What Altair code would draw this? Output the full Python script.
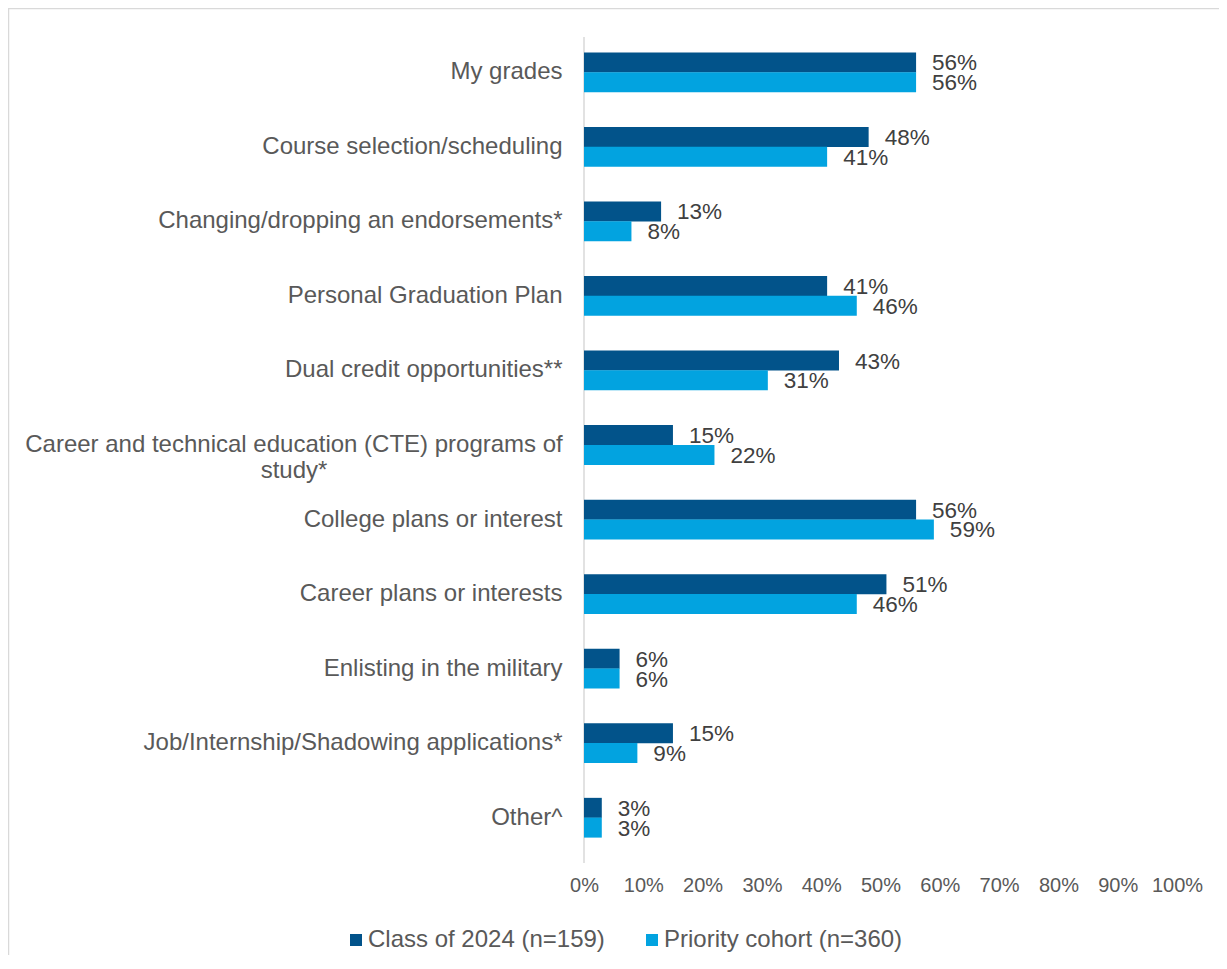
import altair as alt
import pandas as pd

CTE = "Career and technical education (CTE) programs of study*"
categories = [
    "My grades",
    "Course selection/scheduling",
    "Changing/dropping an endorsements*",
    "Personal Graduation Plan",
    "Dual credit opportunities**",
    CTE,
    "College plans or interest",
    "Career plans or interests",
    "Enlisting in the military",
    "Job/Internship/Shadowing applications*",
    "Other^",
]
cte_lines = ["Career and technical education (CTE) programs of", "study*"]
series = ["Class of 2024 (n=159)", "Priority cohort (n=360)"]
class_2024 = [56, 48, 13, 41, 43, 15, 56, 51, 6, 15, 3]
priority = [56, 41, 8, 46, 31, 22, 59, 46, 6, 9, 3]
colors = ["#02538A", "#02A3E0"]
x_ticks = [0, 0.1, 0.2, 0.3, 0.4, 0.5, 0.6, 0.7, 0.8, 0.9, 1.0]

rows = []
for c, a, b in zip(categories, class_2024, priority):
    rows.append({"cat": c, "series": series[0], "value": a / 100, "label": f"{a}%"})
    rows.append({"cat": c, "series": series[1], "value": b / 100, "label": f"{b}%"})
df = pd.DataFrame(rows)

FONT = "Liberation Sans"
CAT_SIZE = 24

y_enc = alt.Y(
    "cat:N",
    sort=categories,
    scale=alt.Scale(paddingInner=0.47, paddingOuter=0.235),
    axis=alt.Axis(
        title=None,
        ticks=False,
        domain=False,
        labelFontSize=CAT_SIZE,
        labelColor="#595959",
        labelFont=FONT,
        labelPadding=22,
        labelLimit=700,
        labelExpr=f"datum.label == '{CTE}' ? '' : datum.label",
    ),
)
x_enc = alt.X(
    "value:Q",
    scale=alt.Scale(domain=[0, 1], nice=False),
    axis=alt.Axis(
        title=None,
        values=x_ticks,
        format=".0%",
        grid=False,
        ticks=False,
        domain=False,
        labelFontSize=20,
        labelColor="#595959",
        labelFont=FONT,
        labelPadding=20,
        labelOverlap=False,
        labelFlush=False,
        labelAlign="center",
    ),
)
yoff = alt.YOffset("series:N", sort=series)

bars = alt.Chart(df).mark_bar(size=20).encode(
    y=y_enc,
    x=x_enc,
    yOffset=yoff,
    color=alt.Color(
        "series:N",
        sort=series,
        scale=alt.Scale(domain=series, range=colors),
        legend=alt.Legend(
            title=None,
            orient="none",
            legendX=-240,
            legendY=893,
            direction="horizontal",
            symbolType="square",
            symbolSize=144,
            symbolStrokeWidth=0,
            labelFontSize=24,
            labelFont=FONT,
            labelColor="#595959",
            labelOffset=0,
            columnPadding=35,
            labelLimit=400,
            padding=0,
        ),
    ),
)

labels = alt.Chart(df).mark_text(
    align="left", baseline="middle", dx=16, dy=1, fontSize=22.5, font=FONT, color="#404040"
).encode(
    y=alt.Y("cat:N", sort=categories),
    x=alt.X("value:Q"),
    yOffset=yoff,
    text="label:N",
)

cte_df = pd.DataFrame({"cat": [CTE], "lines": [cte_lines]})
cte_label = alt.Chart(cte_df).mark_text(
    align="center", baseline="middle", fontSize=CAT_SIZE, font=FONT, color="#595959",
    lineHeight=26, dx=-290,
).encode(
    y=alt.Y("cat:N", sort=categories),
    x=alt.value(0),
    text="lines:N",
)

frame_df = pd.DataFrame({"k": [0]})
axis_line = alt.Chart(frame_df).mark_rule(color="#D9D9D9", strokeWidth=1.5).encode(
    x=alt.value(0), y=alt.value(2), y2=alt.value(828)
)
border = alt.Chart(frame_df).mark_rect(
    fill="transparent", stroke="#D9D9D9", strokeWidth=1.5
).encode(
    x=alt.value(-575.5), y=alt.value(-26.5), x2=alt.value(1000), y2=alt.value(1000)
)

chart = (
    alt.layer(border, axis_line, bars, labels, cte_label)
    .properties(
        width=593,
        height=820,
        background="white",
        autosize=alt.AutoSizeParams(type="none"),
        padding={"left": 576, "top": 27, "right": 42, "bottom": 100},
    )
    .configure_view(strokeWidth=0, stroke="transparent")
)

chart.save("out.html", embed_options={"renderer": "svg", "actions": False})
